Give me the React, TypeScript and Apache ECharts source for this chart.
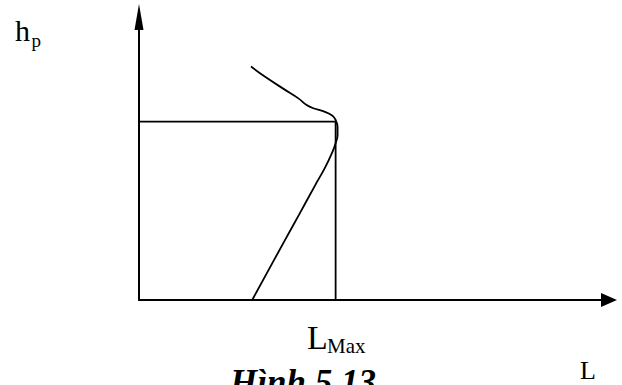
import React, { useEffect, useRef } from "react";
import * as echarts from "echarts";

// Curve h_p(L) (unitless schematic scale)
const curveL = [2.86, 3.22, 3.73, 4.07, 4.28, 4.45, 4.75, 4.94, 5.02, 5.07, 5.07, 5.02, 4.94, 4.74, 4.51, 4.08, 3.73, 2.89];
const curveH = [6.6, 6.31, 5.94, 5.7, 5.51, 5.42, 5.32, 5.21, 5.09, 4.9, 4.66, 4.43, 4.19, 3.72, 3.27, 2.4, 1.7, 0];
const lMax = 5.02;
const hAtMax = 5.04;
const xRange = [0, 12];
const yRange = [0, 8];

const SERIF = "'Liberation Serif', 'Times New Roman', serif";

const txt = (
  text: string,
  x: number,
  y: number,
  size: number,
  extra: Record<string, unknown> = {}
) => ({
  type: "text",
  x,
  y,
  silent: true,
  style: {
    text,
    fontFamily: SERIF,
    fontSize: size,
    fill: "#000",
    textVerticalAlign: "middle",
    ...extra,
  },
});

export default function App() {
  const ref = useRef<HTMLDivElement>(null);
  useEffect(() => {
    if (!ref.current) return;
    const chart = echarts.init(ref.current, undefined, { renderer: "svg" });
    const axisCommon = {
      type: "value" as const,
      axisTick: { show: false },
      axisLabel: { show: false },
      splitLine: { show: false },
    };
    chart.setOption({
      animation: false,
      backgroundColor: "#fff",
      grid: { left: 139, right: 13, top: 17, bottom: 85, containLabel: false },
      xAxis: {
        ...axisCommon,
        min: xRange[0],
        max: xRange[1],
        axisLine: {
          show: true,
          symbol: ["none", "triangle"],
          symbolSize: [14, 16],
          lineStyle: { color: "#000", width: 2 },
        },
      },
      yAxis: {
        ...axisCommon,
        min: yRange[0],
        max: yRange[1],
        axisLine: {
          show: true,
          symbol: ["none", "triangle"],
          symbolSize: [9, 26],
          lineStyle: { color: "#000", width: 2 },
        },
      },
      series: [
        {
          type: "line",
          data: curveL.map((l, i) => [l, curveH[i]]),
          smooth: 0.4,
          showSymbol: false,
          lineStyle: { color: "#000", width: 1.8 },
        },
        {
          type: "line",
          data: [
            [0, hAtMax],
            [lMax, hAtMax],
            [lMax, 0],
          ],
          showSymbol: false,
          lineStyle: { color: "#000", width: 1.8 },
        },
      ],
      graphic: [
        txt("h", 15, 30, 30),
        txt("p", 31.5, 40, 19),
        txt("L", 307, 337.5, 34),
        txt("Max", 327, 346, 21),
        txt("L", 580, 370.5, 26),
        txt("Hình 5.13", 230, 382, 35, { fontStyle: "italic", fontWeight: "bold" }),
      ],
    });
    return () => chart.dispose();
  }, []);
  return (
    <div
      ref={ref}
      style={{ position: "absolute", left: 0, top: 0, width: 622, height: 385, background: "#fff" }}
    />
  );
}
